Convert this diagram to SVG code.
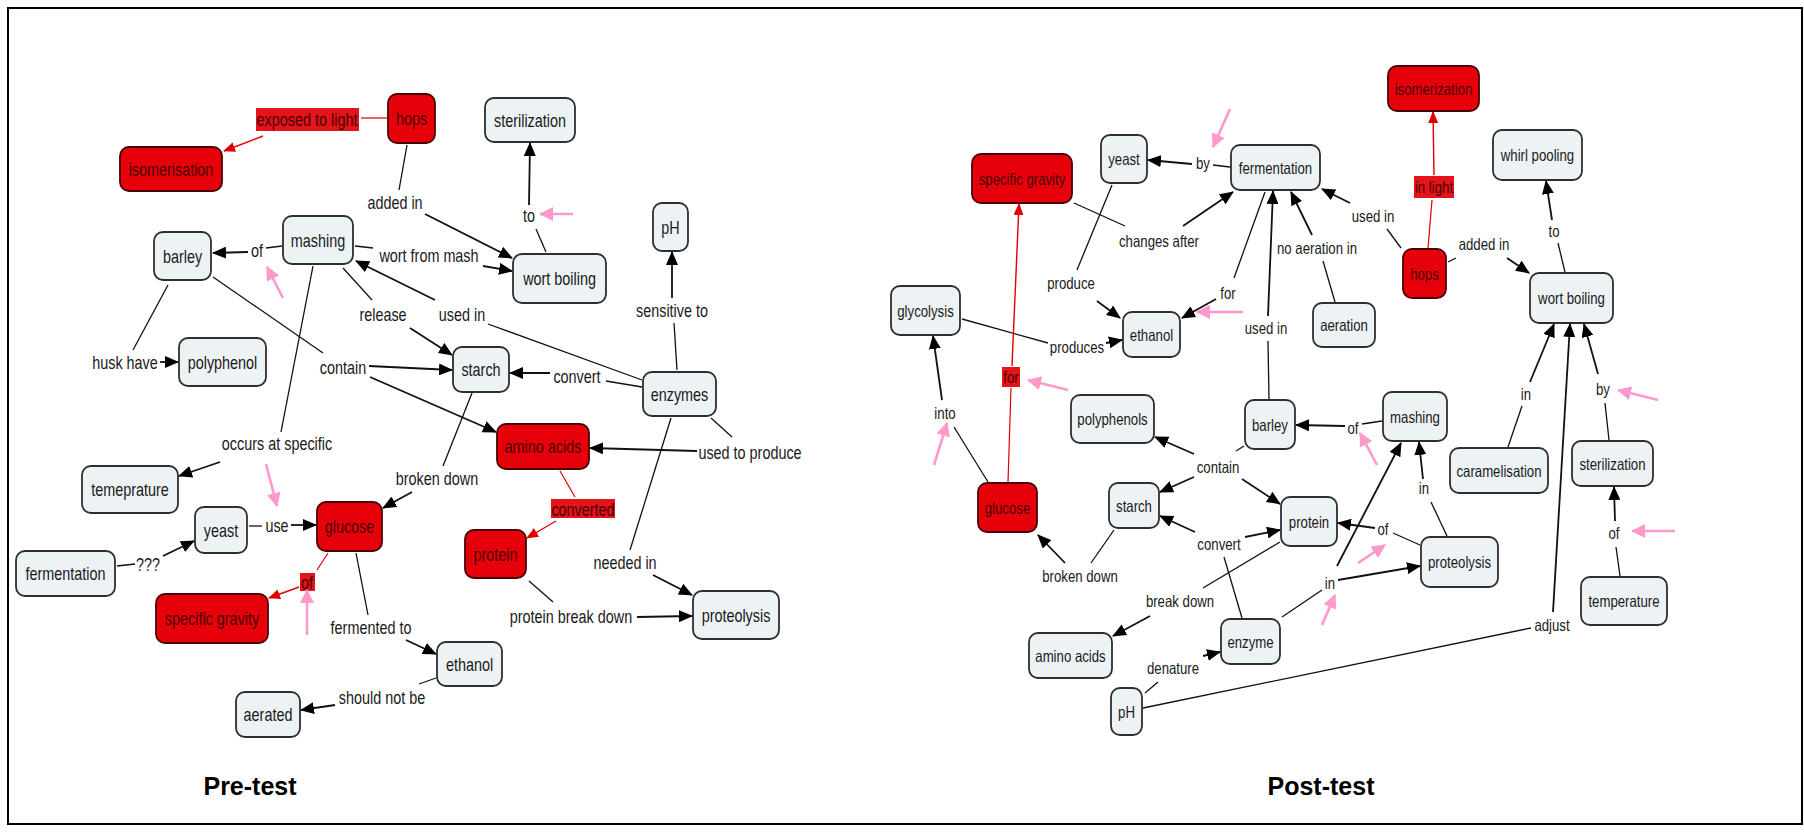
<svg xmlns="http://www.w3.org/2000/svg" width="1804" height="832" viewBox="0 0 1804 832">
<style>
  .n rect{fill:#edf2f5;stroke:#2e2e2e;stroke-width:1.8}
  .n.red rect{fill:#e6000a;stroke:#4a0000}
  text{font-family:"Liberation Sans",Arial,sans-serif;text-anchor:middle;dominant-baseline:central;fill:#1a1a1a}
  .L{font-size:18px}
  .R{font-size:16.5px}
  .red text{fill:#4a0000}
  .hl{fill:#e3141a}
  .hlt{fill:#4a0000}
  .c line,.c polyline{stroke:#111;stroke-width:1.3;fill:none}
  .c .a{stroke-width:1.8;marker-end:url(#ah)}
  .c .r{stroke:#e00000;stroke-width:1.2}
  .c .ra{stroke:#e00000;stroke-width:1.4;marker-end:url(#rh)}
  .pk line{stroke:#ff99cc;stroke-width:2.6;marker-end:url(#ph)}
  .cap{font-family:"Liberation Sans",Arial,sans-serif;font-weight:bold;font-size:25px;fill:#000}
</style>
<defs>
  <marker id="ah" viewBox="0 0 14 12" refX="13" refY="6" markerWidth="14" markerHeight="12" markerUnits="userSpaceOnUse" orient="auto"><path d="M0,0 L14,6 L0,12 z" fill="#000"/></marker>
  <marker id="rh" viewBox="0 0 12 10" refX="11" refY="5" markerWidth="12" markerHeight="10" markerUnits="userSpaceOnUse" orient="auto"><path d="M0,0 L12,5 L0,10 z" fill="#e00000"/></marker>
  <marker id="ph" viewBox="0 0 14 14" refX="13" refY="7" markerWidth="14" markerHeight="14" markerUnits="userSpaceOnUse" orient="auto"><path d="M0,0 L14,7 L0,14 z" fill="#ff99cc"/></marker>
</defs>
<rect width="1804" height="832" fill="#fff"/>
<rect x="8" y="8" width="1794" height="816" fill="none" stroke="#000" stroke-width="2"/>

<!-- ===== Pre-test map: connectors ===== -->
<g id="pre-connectors" class="c">
  <line class="r" x1="387" y1="118" x2="361" y2="118"/>
  <line class="ra" x1="263" y1="136" x2="224" y2="151"/>
  <line x1="407" y1="145" x2="399" y2="190"/>
  <line class="a" x1="425" y1="214" x2="512" y2="258"/>
  <line x1="282" y1="246" x2="266" y2="248"/>
  <line class="a" x1="248" y1="252" x2="213" y2="253"/>
  <line x1="355" y1="246" x2="373" y2="248"/>
  <line class="a" x1="483" y1="266" x2="512" y2="271"/>
  <line x1="343" y1="268" x2="372" y2="300"/>
  <line class="a" x1="410" y1="328" x2="452" y2="355"/>
  <line x1="642" y1="380" x2="488" y2="324"/>
  <line class="a" x1="435" y1="300" x2="356" y2="261"/>
  <line x1="168" y1="285" x2="133" y2="350"/>
  <line class="a" x1="160" y1="362" x2="178" y2="362"/>
  <line x1="213" y1="277" x2="323" y2="353"/>
  <line class="a" x1="369" y1="366" x2="452" y2="370"/>
  <line class="a" x1="370" y1="377" x2="496" y2="432"/>
  <line x1="546" y1="252" x2="536" y2="229"/>
  <line class="a" x1="529" y1="205" x2="530" y2="143"/>
  <line x1="677" y1="370" x2="674" y2="323"/>
  <line class="a" x1="672" y1="298" x2="672" y2="252"/>
  <line x1="642" y1="387" x2="606" y2="381"/>
  <line class="a" x1="550" y1="373" x2="510" y2="373"/>
  <line x1="711" y1="418" x2="732" y2="437"/>
  <line class="a" x1="697" y1="451" x2="590" y2="448"/>
  <line class="r" x1="560" y1="471" x2="575" y2="497"/>
  <line class="ra" x1="556" y1="521" x2="527" y2="538"/>
  <line x1="671" y1="418" x2="630" y2="550"/>
  <line class="a" x1="653" y1="575" x2="692" y2="595"/>
  <line x1="529" y1="581" x2="553" y2="602"/>
  <line class="a" x1="637" y1="617" x2="692" y2="616"/>
  <line x1="313" y1="266" x2="281" y2="432"/>
  <line class="a" x1="220" y1="462" x2="179" y2="476"/>
  <line x1="472" y1="393" x2="443" y2="466"/>
  <line class="a" x1="412" y1="492" x2="383" y2="508"/>
  <line x1="249" y1="526" x2="262" y2="526"/>
  <line class="a" x1="291" y1="525" x2="316" y2="525"/>
  <line x1="117" y1="566" x2="135" y2="564"/>
  <line class="a" x1="163" y1="556" x2="194" y2="541"/>
  <line class="r" x1="328" y1="553" x2="317" y2="570"/>
  <line class="ra" x1="299" y1="587" x2="269" y2="598"/>
  <line x1="356" y1="553" x2="368" y2="615"/>
  <line class="a" x1="406" y1="640" x2="436" y2="654"/>
  <line x1="436" y1="678" x2="419" y2="684"/>
  <line class="a" x1="335" y1="705" x2="301" y2="710"/>
</g>

<!-- ===== Post-test map: connectors ===== -->
<g id="post-connectors" class="c">
  <line x1="1230" y1="167" x2="1213" y2="165"/>
  <line class="a" x1="1192" y1="164" x2="1148" y2="160"/>
  <line x1="1074" y1="203" x2="1125" y2="226"/>
  <line class="a" x1="1183" y1="226" x2="1233" y2="192"/>
  <line x1="1112" y1="185" x2="1077" y2="270"/>
  <line class="a" x1="1097" y1="301" x2="1120" y2="318"/>
  <line x1="962" y1="319" x2="1048" y2="343"/>
  <line class="a" x1="1106" y1="343" x2="1122" y2="340"/>
  <line x1="1265" y1="192" x2="1234" y2="278"/>
  <line class="a" x1="1216" y1="299" x2="1182" y2="318"/>
  <line x1="1269" y1="399" x2="1268" y2="341"/>
  <line class="a" x1="1268" y1="316" x2="1273" y2="191"/>
  <line x1="1335" y1="302" x2="1323" y2="261"/>
  <line class="a" x1="1312" y1="235" x2="1291" y2="192"/>
  <line x1="1401" y1="248" x2="1387" y2="229"/>
  <line class="a" x1="1350" y1="203" x2="1322" y2="189"/>
  <line class="r" x1="1428" y1="248" x2="1432" y2="200"/>
  <line class="ra" x1="1434" y1="175" x2="1433" y2="112"/>
  <line x1="1448" y1="262" x2="1456" y2="258"/>
  <line class="a" x1="1507" y1="258" x2="1529" y2="273"/>
  <line x1="1565" y1="272" x2="1558" y2="243"/>
  <line class="a" x1="1552" y1="220" x2="1546" y2="181"/>
  <line x1="1508" y1="447" x2="1522" y2="406"/>
  <line class="a" x1="1530" y1="382" x2="1554" y2="324"/>
  <line x1="1143" y1="708" x2="1531" y2="628"/>
  <line class="a" x1="1553" y1="612" x2="1570" y2="324"/>
  <line x1="1609" y1="440" x2="1605" y2="403"/>
  <line class="a" x1="1598" y1="374" x2="1584" y2="324"/>
  <line x1="1620" y1="576" x2="1616" y2="547"/>
  <line class="a" x1="1615" y1="521" x2="1614" y2="487"/>
  <line x1="1382" y1="421" x2="1362" y2="424"/>
  <line class="a" x1="1345" y1="426" x2="1296" y2="425"/>
  <line x1="1447" y1="536" x2="1431" y2="502"/>
  <line class="a" x1="1423" y1="479" x2="1419" y2="442"/>
  <line x1="1420" y1="545" x2="1393" y2="533"/>
  <line class="a" x1="1375" y1="528" x2="1338" y2="523"/>
  <line x1="1282" y1="617" x2="1322" y2="590"/>
  <line class="a" x1="1338" y1="580" x2="1420" y2="566"/>
  <line class="a" x1="1337" y1="566" x2="1401" y2="443"/>
  <line x1="1244" y1="446" x2="1236" y2="451"/>
  <line class="a" x1="1194" y1="454" x2="1155" y2="437"/>
  <line class="a" x1="1194" y1="477" x2="1160" y2="492"/>
  <line class="a" x1="1242" y1="479" x2="1280" y2="504"/>
  <line x1="1242" y1="618" x2="1224" y2="557"/>
  <line class="a" x1="1195" y1="532" x2="1160" y2="516"/>
  <line class="a" x1="1245" y1="537" x2="1280" y2="530"/>
  <line x1="1114" y1="530" x2="1091" y2="563"/>
  <line class="a" x1="1065" y1="563" x2="1038" y2="535"/>
  <line x1="1280" y1="542" x2="1203" y2="588"/>
  <line class="a" x1="1150" y1="616" x2="1113" y2="636"/>
  <line x1="1145" y1="693" x2="1158" y2="682"/>
  <line class="a" x1="1203" y1="656" x2="1220" y2="652"/>
  <line class="r" x1="1008" y1="482" x2="1011" y2="388"/>
  <line class="ra" x1="1012" y1="366" x2="1019" y2="204"/>
  <line x1="988" y1="482" x2="954" y2="427"/>
  <line class="a" x1="942" y1="400" x2="933" y2="336"/>
</g>

<!-- ===== Pre-test map: linking phrases ===== -->
<g id="pre-labels">
  <rect class="hl" x="256" y="108" width="103" height="23"/>
  <text class="L hlt" transform="translate(307,119) scale(.8,1)">exposed to light</text>
  <text class="L" transform="translate(395,202) scale(.8,1)">added in</text>
  <text class="L" transform="translate(257,250) scale(.8,1)">of</text>
  <text class="L" transform="translate(429,255) scale(.8,1)">wort from mash</text>
  <text class="L" transform="translate(383,314) scale(.8,1)">release</text>
  <text class="L" transform="translate(462,314) scale(.8,1)">used in</text>
  <text class="L" transform="translate(125,362) scale(.8,1)">husk have</text>
  <text class="L" transform="translate(343,367) scale(.8,1)">contain</text>
  <text class="L" transform="translate(529,215) scale(.8,1)">to</text>
  <text class="L" transform="translate(672,310) scale(.8,1)">sensitive to</text>
  <text class="L" transform="translate(577,376) scale(.8,1)">convert</text>
  <text class="L" transform="translate(750,452) scale(.8,1)">used to produce</text>
  <text class="L" transform="translate(277,443) scale(.8,1)">occurs at specific</text>
  <text class="L" transform="translate(437,478) scale(.8,1)">broken down</text>
  <text class="L" transform="translate(277,525) scale(.8,1)">use</text>
  <text class="L" transform="translate(148,564) scale(.8,1)">???</text>
  <rect class="hl" x="300" y="573" width="15" height="18"/>
  <text class="L hlt" transform="translate(307,582) scale(.8,1)">of</text>
  <text class="L" transform="translate(371,627) scale(.8,1)">fermented to</text>
  <text class="L" transform="translate(382,697) scale(.8,1)">should not be</text>
  <rect class="hl" x="551" y="499" width="64" height="19"/>
  <text class="L hlt" transform="translate(583,509) scale(.8,1)">converted</text>
  <text class="L" transform="translate(625,562) scale(.8,1)">needed in</text>
  <text class="L" transform="translate(571,616) scale(.8,1)">protein break down</text>
</g>

<!-- ===== Post-test map: linking phrases ===== -->
<g id="post-labels">
  <text class="R" transform="translate(1203,163) scale(.8,1)">by</text>
  <text class="R" transform="translate(1159,241) scale(.8,1)">changes after</text>
  <text class="R" transform="translate(1071,283) scale(.8,1)">produce</text>
  <text class="R" transform="translate(1077,347) scale(.8,1)">produces</text>
  <text class="R" transform="translate(1228,293) scale(.8,1)">for</text>
  <text class="R" transform="translate(1266,328) scale(.8,1)">used in</text>
  <text class="R" transform="translate(1317,248) scale(.8,1)">no aeration in</text>
  <text class="R" transform="translate(1373,216) scale(.8,1)">used in</text>
  <rect class="hl" x="1414" y="176" width="40" height="22"/>
  <text class="R hlt" transform="translate(1434,187) scale(.8,1)">in light</text>
  <text class="R" transform="translate(1484,244) scale(.8,1)">added in</text>
  <text class="R" transform="translate(1554,231) scale(.8,1)">to</text>
  <text class="R" transform="translate(1526,394) scale(.8,1)">in</text>
  <text class="R" transform="translate(1603,389) scale(.8,1)">by</text>
  <text class="R" transform="translate(1614,533) scale(.8,1)">of</text>
  <text class="R" transform="translate(1552,625) scale(.8,1)">adjust</text>
  <text class="R" transform="translate(1424,488) scale(.8,1)">in</text>
  <text class="R" transform="translate(1383,529) scale(.8,1)">of</text>
  <text class="R" transform="translate(1330,583) scale(.8,1)">in</text>
  <text class="R" transform="translate(1353,428) scale(.8,1)">of</text>
  <rect class="hl" x="1002" y="367" width="18" height="20"/>
  <text class="R hlt" transform="translate(1011,377) scale(.8,1)">for</text>
  <text class="R" transform="translate(945,413) scale(.8,1)">into</text>
  <text class="R" transform="translate(1218,467) scale(.8,1)">contain</text>
  <text class="R" transform="translate(1219,544) scale(.8,1)">convert</text>
  <text class="R" transform="translate(1080,576) scale(.8,1)">broken down</text>
  <text class="R" transform="translate(1180,601) scale(.8,1)">break down</text>
  <text class="R" transform="translate(1173,668) scale(.8,1)">denature</text>
</g>

<!-- ===== Pre-test map: concepts ===== -->
<g id="pre-hops" class="n red"><rect x="388" y="94" width="47" height="49" rx="9"/><text class="L" transform="translate(411.5,118.5) scale(.8,1)">hops</text></g>
<g id="pre-isomerisation" class="n red"><rect x="120" y="147" width="102" height="44" rx="9"/><text class="L" transform="translate(171,169) scale(.8,1)">isomerisation</text></g>
<g id="pre-sterilization" class="n"><rect x="485" y="98" width="90" height="44" rx="9"/><text class="L" transform="translate(530,120) scale(.8,1)">sterilization</text></g>
<g id="pre-barley" class="n"><rect x="154" y="232" width="57" height="48" rx="9"/><text class="L" transform="translate(182.5,256) scale(.8,1)">barley</text></g>
<g id="pre-mashing" class="n"><rect x="283" y="216" width="70" height="48" rx="9"/><text class="L" transform="translate(318,240) scale(.8,1)">mashing</text></g>
<g id="pre-wort-boiling" class="n"><rect x="513" y="254" width="93" height="49" rx="9"/><text class="L" transform="translate(559.5,278.5) scale(.8,1)">wort boiling</text></g>
<g id="pre-ph" class="n"><rect x="653" y="203" width="35" height="48" rx="9"/><text class="L" transform="translate(670.5,227) scale(.8,1)">pH</text></g>
<g id="pre-polyphenol" class="n"><rect x="179" y="338" width="87" height="48" rx="9"/><text class="L" transform="translate(222.5,362) scale(.8,1)">polyphenol</text></g>
<g id="pre-starch" class="n"><rect x="453" y="347" width="56" height="45" rx="9"/><text class="L" transform="translate(481,369.5) scale(.8,1)">starch</text></g>
<g id="pre-enzymes" class="n"><rect x="643" y="372" width="73" height="44" rx="9"/><text class="L" transform="translate(679.5,394) scale(.8,1)">enzymes</text></g>
<g id="pre-amino-acids" class="n red"><rect x="497" y="424" width="92" height="45" rx="9"/><text class="L" transform="translate(543,446.5) scale(.8,1)">amino acids</text></g>
<g id="pre-temeprature" class="n"><rect x="82" y="466" width="96" height="47" rx="9"/><text class="L" transform="translate(130,489.5) scale(.8,1)">temeprature</text></g>
<g id="pre-yeast" class="n"><rect x="195" y="507" width="52" height="46" rx="9"/><text class="L" transform="translate(221,530) scale(.8,1)">yeast</text></g>
<g id="pre-glucose" class="n red"><rect x="317" y="502" width="65" height="49" rx="9"/><text class="L" transform="translate(349.5,526.5) scale(.8,1)">glucose</text></g>
<g id="pre-fermentation" class="n"><rect x="16" y="551" width="99" height="45" rx="9"/><text class="L" transform="translate(65.5,573.5) scale(.8,1)">fermentation</text></g>
<g id="pre-protein" class="n red"><rect x="465" y="530" width="61" height="48" rx="9"/><text class="L" transform="translate(495.5,554) scale(.8,1)">protein</text></g>
<g id="pre-specific-gravity" class="n red"><rect x="156" y="594" width="112" height="49" rx="9"/><text class="L" transform="translate(212,618.5) scale(.8,1)">specific gravity</text></g>
<g id="pre-proteolysis" class="n"><rect x="693" y="591" width="86" height="48" rx="9"/><text class="L" transform="translate(736,615) scale(.8,1)">proteolysis</text></g>
<g id="pre-ethanol" class="n"><rect x="437" y="642" width="65" height="44" rx="9"/><text class="L" transform="translate(469.5,664) scale(.8,1)">ethanol</text></g>
<g id="pre-aerated" class="n"><rect x="236" y="692" width="64" height="45" rx="9"/><text class="L" transform="translate(268,714.5) scale(.8,1)">aerated</text></g>

<!-- ===== Post-test map: concepts ===== -->
<g id="post-isomerization" class="n red"><rect x="1388" y="66" width="91" height="45" rx="9"/><text class="R" transform="translate(1433.5,88.5) scale(.8,1)">isomerization</text></g>
<g id="post-specific-gravity" class="n red"><rect x="972" y="154" width="100" height="49" rx="9"/><text class="R" transform="translate(1022,178.5) scale(.8,1)">specific gravity</text></g>
<g id="post-yeast" class="n"><rect x="1101" y="135" width="46" height="48" rx="9"/><text class="R" transform="translate(1124,159) scale(.8,1)">yeast</text></g>
<g id="post-fermentation" class="n"><rect x="1231" y="145" width="89" height="45" rx="9"/><text class="R" transform="translate(1275.5,167.5) scale(.8,1)">fermentation</text></g>
<g id="post-whirl-pooling" class="n"><rect x="1493" y="130" width="89" height="50" rx="9"/><text class="R" transform="translate(1537.5,155) scale(.8,1)">whirl pooling</text></g>
<g id="post-hops" class="n red"><rect x="1403" y="249" width="43" height="49" rx="9"/><text class="R" transform="translate(1424.5,273.5) scale(.8,1)">hops</text></g>
<g id="post-glycolysis" class="n"><rect x="891" y="286" width="69" height="49" rx="9"/><text class="R" transform="translate(925.5,310.5) scale(.8,1)">glycolysis</text></g>
<g id="post-ethanol" class="n"><rect x="1123" y="312" width="57" height="45" rx="9"/><text class="R" transform="translate(1151.5,334.5) scale(.8,1)">ethanol</text></g>
<g id="post-aeration" class="n"><rect x="1313" y="303" width="62" height="44" rx="9"/><text class="R" transform="translate(1344,325) scale(.8,1)">aeration</text></g>
<g id="post-wort-boiling" class="n"><rect x="1530" y="273" width="83" height="50" rx="9"/><text class="R" transform="translate(1571.5,298) scale(.8,1)">wort boiling</text></g>
<g id="post-polyphenols" class="n"><rect x="1071" y="395" width="83" height="48" rx="9"/><text class="R" transform="translate(1112.5,419) scale(.8,1)">polyphenols</text></g>
<g id="post-barley" class="n"><rect x="1245" y="400" width="50" height="49" rx="9"/><text class="R" transform="translate(1270,424.5) scale(.8,1)">barley</text></g>
<g id="post-mashing" class="n"><rect x="1383" y="392" width="64" height="49" rx="9"/><text class="R" transform="translate(1415,416.5) scale(.8,1)">mashing</text></g>
<g id="post-caramelisation" class="n"><rect x="1450" y="448" width="98" height="45" rx="9"/><text class="R" transform="translate(1499,470.5) scale(.8,1)">caramelisation</text></g>
<g id="post-sterilization" class="n"><rect x="1572" y="441" width="81" height="45" rx="9"/><text class="R" transform="translate(1612.5,463.5) scale(.8,1)">sterilization</text></g>
<g id="post-glucose" class="n red"><rect x="978" y="483" width="59" height="49" rx="9"/><text class="R" transform="translate(1007.5,507.5) scale(.8,1)">glucose</text></g>
<g id="post-starch" class="n"><rect x="1109" y="483" width="50" height="45" rx="9"/><text class="R" transform="translate(1134,505.5) scale(.8,1)">starch</text></g>
<g id="post-protein" class="n"><rect x="1281" y="497" width="56" height="49" rx="9"/><text class="R" transform="translate(1309,521.5) scale(.8,1)">protein</text></g>
<g id="post-proteolysis" class="n"><rect x="1421" y="537" width="77" height="50" rx="9"/><text class="R" transform="translate(1459.5,562) scale(.8,1)">proteolysis</text></g>
<g id="post-temperature" class="n"><rect x="1581" y="577" width="86" height="48" rx="9"/><text class="R" transform="translate(1624,601) scale(.8,1)">temperature</text></g>
<g id="post-amino-acids" class="n"><rect x="1029" y="633" width="83" height="45" rx="9"/><text class="R" transform="translate(1070.5,655.5) scale(.8,1)">amino acids</text></g>
<g id="post-enzyme" class="n"><rect x="1221" y="619" width="59" height="45" rx="9"/><text class="R" transform="translate(1250.5,641.5) scale(.8,1)">enzyme</text></g>
<g id="post-ph" class="n"><rect x="1111" y="688" width="31" height="47" rx="9"/><text class="R" transform="translate(1126.5,711.5) scale(.8,1)">pH</text></g>

<!-- pink annotation arrows -->
<g id="annotations" class="pk">
  <line x1="283" y1="298" x2="267" y2="267"/>
  <line x1="573" y1="214" x2="540" y2="214"/>
  <line x1="266" y1="464" x2="277" y2="506"/>
  <line x1="307" y1="635" x2="307" y2="590"/>
  <line x1="1230" y1="109" x2="1213" y2="147"/>
  <line x1="1243" y1="312" x2="1197" y2="312"/>
  <line x1="1068" y1="390" x2="1028" y2="380"/>
  <line x1="934" y1="465" x2="947" y2="423"/>
  <line x1="1377" y1="465" x2="1360" y2="433"/>
  <line x1="1358" y1="563" x2="1385" y2="545"/>
  <line x1="1322" y1="625" x2="1335" y2="595"/>
  <line x1="1658" y1="400" x2="1618" y2="390"/>
  <line x1="1675" y1="531" x2="1632" y2="531"/>
</g>

<text class="cap" x="250" y="786">Pre-test</text>
<text class="cap" x="1321" y="786">Post-test</text>
</svg>
